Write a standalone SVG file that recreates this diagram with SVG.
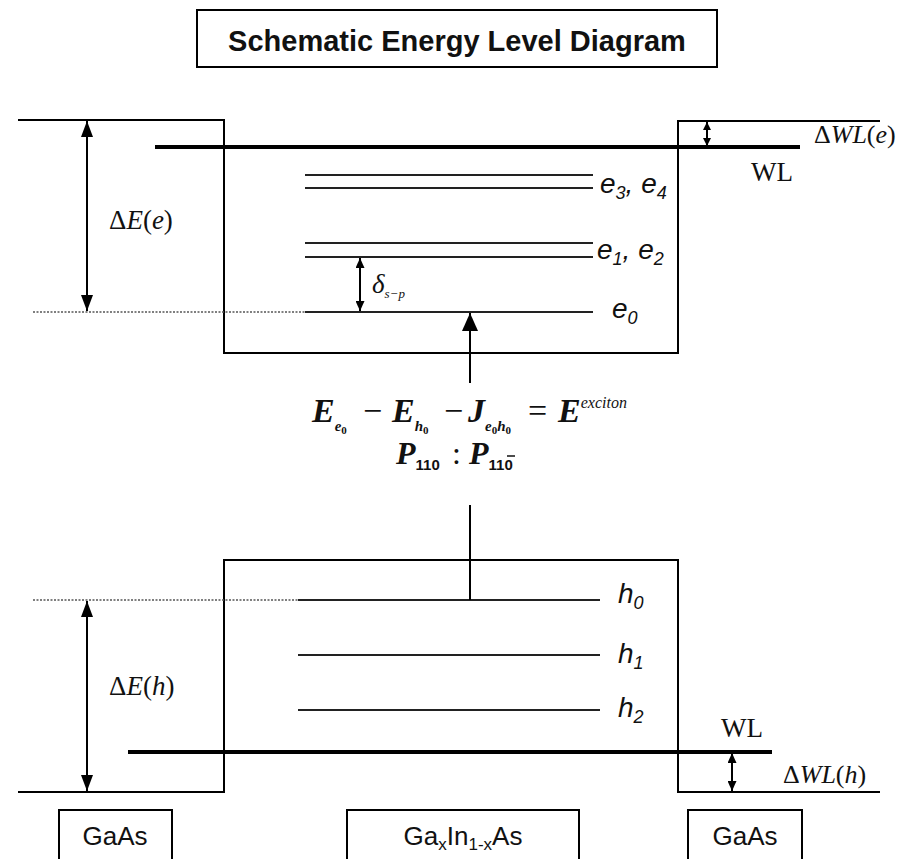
<svg xmlns="http://www.w3.org/2000/svg" width="914" height="859" viewBox="0 0 914 859">
<defs>
<marker id="ah" viewBox="0 0 16 12" refX="16" refY="6" markerWidth="16" markerHeight="12" markerUnits="userSpaceOnUse" orient="auto-start-reverse"><path d="M0,0 L16,6 L0,12 z" fill="#000"/></marker>
<marker id="ahs" viewBox="0 0 10 9" refX="10" refY="4.5" markerWidth="10" markerHeight="9" markerUnits="userSpaceOnUse" orient="auto-start-reverse"><path d="M0,0 L10,4.5 L0,9 z" fill="#000"/></marker>
<marker id="ahxs" viewBox="0 0 8 8" refX="8" refY="4" markerWidth="8" markerHeight="8" markerUnits="userSpaceOnUse" orient="auto-start-reverse"><path d="M0,0 L8,4 L0,8 z" fill="#000"/></marker>
<marker id="ahb" viewBox="0 0 18 16" refX="18" refY="8" markerWidth="18" markerHeight="16" markerUnits="userSpaceOnUse" orient="auto"><path d="M0,0 L18,8 L0,16 z" fill="#000"/></marker>
</defs>
<style>
.ln{stroke:#000;stroke-width:2;fill:none}
.thick{stroke:#000;stroke-width:4;fill:none}
.lv{stroke:#222;stroke-width:2.2;fill:none}
.dot{stroke:#555;stroke-width:1.5;stroke-dasharray:2 1.5;fill:none}
.box{stroke:#000;stroke-width:2;fill:#fff}
.sans{font-family:"Liberation Sans",Arial,sans-serif;fill:#111}
.lab{font-family:"Liberation Sans",Arial,sans-serif;font-style:italic;font-size:28px;fill:#111}
.ser{font-family:"Liberation Serif","Times New Roman",serif;fill:#111}
.eq{font-family:"Liberation Serif","Times New Roman",serif;font-style:italic;font-weight:bold;fill:#111}
</style>

<g id="title">
<rect x="197" y="10" width="520" height="57" class="box"/>
<text x="457" y="51" text-anchor="middle" class="sans" font-size="29" font-weight="bold">Schematic Energy Level Diagram</text>
</g>

<g id="conduction-band">
<polyline class="ln" points="18,120 224,120 224,353 678,353 678,121 880,121"/>
<line class="thick" x1="155" y1="147" x2="800" y2="147"/>
<line class="dot" x1="33" y1="312" x2="305" y2="312"/>
</g>

<g id="electron-levels">
<line class="lv" x1="305" y1="175" x2="593" y2="175"/>
<line class="lv" x1="305" y1="188" x2="593" y2="188"/>
<line class="lv" x1="305" y1="243" x2="593" y2="243"/>
<line class="lv" x1="305" y1="257" x2="593" y2="257"/>
<line class="lv" x1="305" y1="312" x2="593" y2="312"/>
<text class="lab" x="600" y="193">e<tspan font-size="18" dy="6">3</tspan><tspan dy="-6">, e</tspan><tspan font-size="18" dy="6">4</tspan></text>
<text class="lab" x="597" y="259">e<tspan font-size="18" dy="6">1</tspan><tspan dy="-6">, e</tspan><tspan font-size="18" dy="6">2</tspan></text>
<text class="lab" x="612" y="318">e<tspan font-size="18" dy="6">0</tspan></text>
</g>

<g id="valence-band">
<polyline class="ln" points="18,792 224,792 224,560 678,560 678,792 880,792"/>
<line class="thick" x1="128" y1="752" x2="772" y2="752"/>
<line class="dot" x1="33" y1="600" x2="298" y2="600"/>
</g>

<g id="hole-levels">
<line class="lv" x1="298" y1="600" x2="600" y2="600"/>
<line class="lv" x1="298" y1="655" x2="600" y2="655"/>
<line class="lv" x1="298" y1="710" x2="600" y2="710"/>
<text class="lab" x="618" y="603">h<tspan font-size="18" dy="6">0</tspan></text>
<text class="lab" x="618" y="663">h<tspan font-size="18" dy="6">1</tspan></text>
<text class="lab" x="618" y="717">h<tspan font-size="18" dy="6">2</tspan></text>
</g>

<g id="connectors">
<line class="ln" x1="87" y1="121" x2="87" y2="311" marker-start="url(#ah)" marker-end="url(#ah)"/>
<line class="ln" x1="87" y1="601" x2="87" y2="791" marker-start="url(#ah)" marker-end="url(#ah)"/>
<line class="ln" x1="360" y1="258" x2="360" y2="311" marker-start="url(#ahs)" marker-end="url(#ahs)"/>
<line class="ln" x1="707" y1="122" x2="707" y2="146" marker-start="url(#ahxs)" marker-end="url(#ahxs)"/>
<line class="ln" x1="732" y1="753" x2="732" y2="791" marker-start="url(#ahs)" marker-end="url(#ahs)"/>
<line class="ln" x1="470" y1="383" x2="470" y2="313" marker-end="url(#ahb)"/>
<line class="ln" x1="470" y1="505" x2="470" y2="600"/>
</g>

<g id="labels">
<text class="ser" x="109" y="229" font-size="27">Δ<tspan font-style="italic">E</tspan>(<tspan font-style="italic">e</tspan>)</text>
<text class="ser" x="109" y="695" font-size="27">Δ<tspan font-style="italic">E</tspan>(<tspan font-style="italic">h</tspan>)</text>
<text class="ser" x="814" y="143" font-size="26">Δ<tspan font-style="italic">WL</tspan>(<tspan font-style="italic">e</tspan>)</text>
<text class="ser" x="751" y="181" font-size="27">WL</text>
<text class="ser" x="721" y="737" font-size="27">WL</text>
<text class="ser" x="783" y="783" font-size="26">Δ<tspan font-style="italic">WL</tspan>(<tspan font-style="italic">h</tspan>)</text>
<text class="ser" x="372" y="293" font-size="27" font-style="italic">δ<tspan font-size="13" dy="5">s−p</tspan></text>
</g>

<g id="equation">
<text class="eq" font-size="34" y="422">
<tspan x="312">E</tspan><tspan font-size="15" dy="9">e</tspan><tspan font-size="11" dy="3" font-style="normal">0</tspan>
<tspan x="363" dy="-12" font-weight="normal" font-style="normal">−</tspan>
<tspan x="392">E</tspan><tspan font-size="15" dy="9">h</tspan><tspan font-size="11" dy="3" font-style="normal">0</tspan>
<tspan x="444" dy="-12" font-weight="normal" font-style="normal">−</tspan>
<tspan x="468">J</tspan><tspan font-size="15" dy="9">e</tspan><tspan font-size="11" dy="3" font-style="normal">0</tspan><tspan font-size="15" dy="-3">h</tspan><tspan font-size="11" dy="3" font-style="normal">0</tspan>
<tspan x="528" dy="-12" font-weight="normal" font-style="normal">=</tspan>
<tspan x="558">E</tspan><tspan font-size="16" dy="-14" font-weight="normal">exciton</tspan>
</text>
<text class="eq" font-size="32" y="464">
<tspan x="396">P</tspan><tspan class="sans" font-style="normal" font-size="15" dy="6">110</tspan>
<tspan x="452" dy="-6" font-weight="normal" font-style="normal">:</tspan>
<tspan x="469">P</tspan><tspan class="sans" font-style="normal" font-size="15" dy="6">110</tspan>
</text>
<line x1="507" y1="456" x2="515" y2="456" stroke="#111" stroke-width="1.5"/>
</g>

<g id="gaas-left">
<rect x="59" y="810" width="113" height="60" class="box"/>
<text x="115" y="845" text-anchor="middle" class="sans" font-size="26">GaAs</text>
</g>
<g id="gainas">
<rect x="347" y="810" width="232" height="60" class="box"/>
<text x="463" y="845" text-anchor="middle" class="sans" font-size="26">Ga<tspan font-size="17" dy="5">x</tspan><tspan dy="-5">In</tspan><tspan font-size="17" dy="5">1-x</tspan><tspan dy="-5">As</tspan></text>
</g>
<g id="gaas-right">
<rect x="688" y="810" width="114" height="60" class="box"/>
<text x="745" y="845" text-anchor="middle" class="sans" font-size="26">GaAs</text>
</g>
</svg>
